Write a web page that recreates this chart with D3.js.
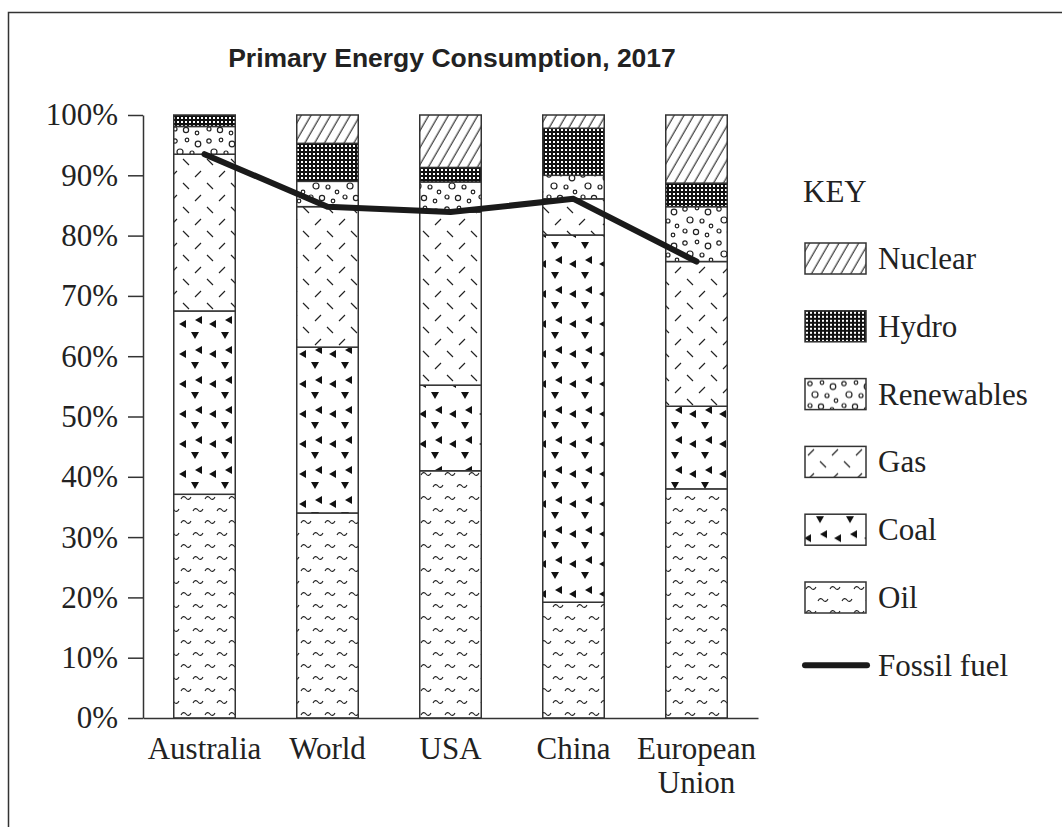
<!DOCTYPE html>
<html>
<head>
<meta charset="utf-8">
<script src="https://cdn.jsdelivr.net/npm/d3@7"></script>
<style>
  body { margin: 0; background: #fff; }
  svg { display: block; }
  .axis text { font-family: "Liberation Serif", "Times New Roman", serif; font-size: 31px; fill: #222; }
  .axis path, .axis line { stroke: #333; stroke-width: 1.5; }
  .key text { font-family: "Liberation Serif", "Times New Roman", serif; font-size: 31px; fill: #222; }
</style>
</head>
<body>
<svg id="viz" width="1062" height="827"></svg>
<script>
// DATA (% share of primary energy)
var categories = ["Australia", "World", "USA", "China", "European Union"];
var oil        = [37.1, 34.0, 41.0, 19.2, 38.0];
var coal       = [30.4, 27.5, 14.2, 60.9, 13.7];
var gas        = [26.0, 23.3, 28.7,  6.0, 24.0];
var renewables = [ 4.6,  4.2,  5.0,  3.9,  9.1];
var hydro      = [ 1.9,  6.3,  2.4,  7.8,  3.9];
var nuclear    = [ 0.0,  4.7,  8.7,  2.2, 11.3];
var yTicks = [0, 10, 20, 30, 40, 50, 60, 70, 80, 90, 100];
var sources = ["Oil", "Coal", "Gas", "Renewables", "Hydro", "Nuclear"];
var keyOrder = ["Nuclear", "Hydro", "Renewables", "Gas", "Coal", "Oil"];

var values = { Oil: oil, Coal: coal, Gas: gas, Renewables: renewables, Hydro: hydro, Nuclear: nuclear };
var table = categories.map(function (c, i) {
    var row = { name: c };
    sources.forEach(function (s) { row[s] = values[s][i]; });
    row.fossil = oil[i] + coal[i] + gas[i];
    return row;
});

var svg = d3.select("#viz");
var ink = "#222";

// FRAME (only top and left edges are inside the picture)
svg.append("rect")
    .attr("x", 8.5).attr("y", 12.5)
    .attr("width", 1200).attr("height", 1000)
    .attr("fill", "none").attr("stroke", "#333").attr("stroke-width", 1.5);

// PATTERNS
var defs = svg.append("defs");

var pNuc = defs.append("pattern").attr("id", "p-Nuclear")
    .attr("patternUnits", "userSpaceOnUse").attr("width", 8.5).attr("height", 8.5)
    .attr("patternTransform", "rotate(30)");
pNuc.append("rect").attr("width", 8.5).attr("height", 8.5).attr("fill", "#fff");
pNuc.append("line").attr("x1", 4).attr("y1", -1).attr("x2", 4).attr("y2", 10)
    .attr("stroke", ink).attr("stroke-width", 1.1);

var pHyd = defs.append("pattern").attr("id", "p-Hydro")
    .attr("patternUnits", "userSpaceOnUse").attr("width", 4).attr("height", 4);
pHyd.append("rect").attr("width", 4).attr("height", 4).attr("fill", "#111");
pHyd.append("rect").attr("x", 1).attr("y", 1).attr("width", 2).attr("height", 2).attr("fill", "#fff");

var pRen = defs.append("pattern").attr("id", "p-Renewables")
    .attr("patternUnits", "userSpaceOnUse").attr("width", 34).attr("height", 34);
pRen.append("rect").attr("width", 34).attr("height", 34).attr("fill", "#fff");
[[5, 5, 2.2], [17, 4, 1.8], [28, 8, 2.8], [10, 16, 3], [22, 17, 2],
 [31, 22, 1.8], [5, 27, 2], [16, 28, 2.6], [27, 31, 1.8]].forEach(function (c) {
    pRen.append("circle").attr("cx", c[0]).attr("cy", c[1]).attr("r", c[2])
        .attr("fill", "none").attr("stroke", ink).attr("stroke-width", 1.2);
});

var pGas = defs.append("pattern").attr("id", "p-Gas")
    .attr("patternUnits", "userSpaceOnUse").attr("width", 24).attr("height", 24);
pGas.append("rect").attr("width", 24).attr("height", 24).attr("fill", "#fff");
pGas.append("path").attr("d", "M3,9L9,3M15,15L21,21")
    .attr("stroke", ink).attr("stroke-width", 1.2).attr("fill", "none");

var pCoal = defs.append("pattern").attr("id", "p-Coal")
    .attr("patternUnits", "userSpaceOnUse").attr("width", 30).attr("height", 30);
pCoal.append("rect").attr("width", 30).attr("height", 30).attr("fill", "#fff");
pCoal.append("path")
    .attr("d", "M11,2L19,2L15,9Z M-1,24L6,20L6,28Z M29,24L36,20L36,28Z M15,20L22,16L22,24Z")
    .attr("fill", "#111");

var pOil = defs.append("pattern").attr("id", "p-Oil")
    .attr("patternUnits", "userSpaceOnUse").attr("width", 24).attr("height", 24);
pOil.append("rect").attr("width", 24).attr("height", 24).attr("fill", "#fff");
pOil.append("path")
    .attr("d", "M1,7C2.5,4 4.5,4 6,6S9.5,8 11,5 M13,19C14.5,16 16.5,16 18,18S21.5,20 23,17")
    .attr("stroke", ink).attr("stroke-width", 1.1).attr("fill", "none");

// SCALES
var x = d3.scaleBand().domain(categories).range([143, 758])
    .paddingInner(0.5).paddingOuter(0.25);
var y = d3.scaleLinear().domain([0, 100]).range([718, 115]);

// BARS
var stack = d3.stack().keys(sources)(table);
var layers = svg.append("g").selectAll("g.layer")
    .data(stack).enter().append("g").attr("class", "layer");
layers.selectAll("rect")
    .data(function (d) { return d.map(function (v) { return { key: d.key, v: v }; }); })
    .enter().append("rect")
    .attr("x", function (d) { return x(d.v.data.name); })
    .attr("width", x.bandwidth())
    .attr("y", function (d) { return y(d.v[1]); })
    .attr("height", function (d) { return y(d.v[0]) - y(d.v[1]); })
    .attr("fill", function (d) { return "url(#p-" + d.key + ")"; })
    .attr("stroke", "#333").attr("stroke-width", 1.5);

// AXES
svg.append("g").attr("class", "axis y")
    .attr("transform", "translate(143,0)")
    .call(d3.axisLeft(y).tickValues(yTicks).tickSize(15).tickSizeOuter(0).tickPadding(10)
        .tickFormat(function (d) { return d + "%"; }));

var xAxis = svg.append("g").attr("class", "axis x")
    .attr("transform", "translate(0,718)")
    .call(d3.axisBottom(x).tickSize(0).tickSizeOuter(0).tickPadding(19));
xAxis.selectAll(".tick text").each(function (d) {
    var t = d3.select(this), words = d.split(" ");
    t.text(null);
    words.forEach(function (w, i) {
        t.append("tspan").attr("x", 0).attr("dy", i === 0 ? "0.71em" : "1.1em").text(w);
    });
});

// FOSSIL FUEL LINE
var line = d3.line()
    .x(function (d) { return x(d.name) + x.bandwidth() / 2; })
    .y(function (d) { return y(d.fossil); });
svg.append("path").datum(table)
    .attr("d", line)
    .attr("fill", "none").attr("stroke", "#1a1a1a")
    .attr("stroke-width", 6).attr("stroke-linejoin", "round").attr("stroke-linecap", "round");

// TITLE
svg.append("text")
    .attr("x", 452).attr("y", 67)
    .attr("text-anchor", "middle")
    .style("font-family", "'Liberation Sans', Arial, sans-serif")
    .style("font-weight", "bold").style("font-size", "26.5px").style("fill", ink)
    .text("Primary Energy Consumption, 2017");

// KEY
var key = svg.append("g").attr("class", "key");
key.append("text").attr("x", 803).attr("y", 202).text("KEY");
var items = key.selectAll("g.item")
    .data(keyOrder.concat(["Fossil fuel"]))
    .enter().append("g").attr("class", "item")
    .attr("transform", function (d, i) { return "translate(805," + (243 + i * 67.8) + ")"; });
items.filter(function (d) { return d !== "Fossil fuel"; })
    .append("rect")
    .attr("width", 61).attr("height", 31)
    .attr("fill", function (d) { return "url(#p-" + d + ")"; })
    .attr("stroke", "#333").attr("stroke-width", 1.5);
items.filter(function (d) { return d === "Fossil fuel"; })
    .append("line")
    .attr("x1", 0).attr("x2", 62).attr("y1", 15.5).attr("y2", 15.5)
    .attr("stroke", "#1a1a1a").attr("stroke-width", 6).attr("stroke-linecap", "round");
items.append("text")
    .attr("x", 73).attr("y", 26)
    .text(function (d) { return d; });
</script>
</body>
</html>
